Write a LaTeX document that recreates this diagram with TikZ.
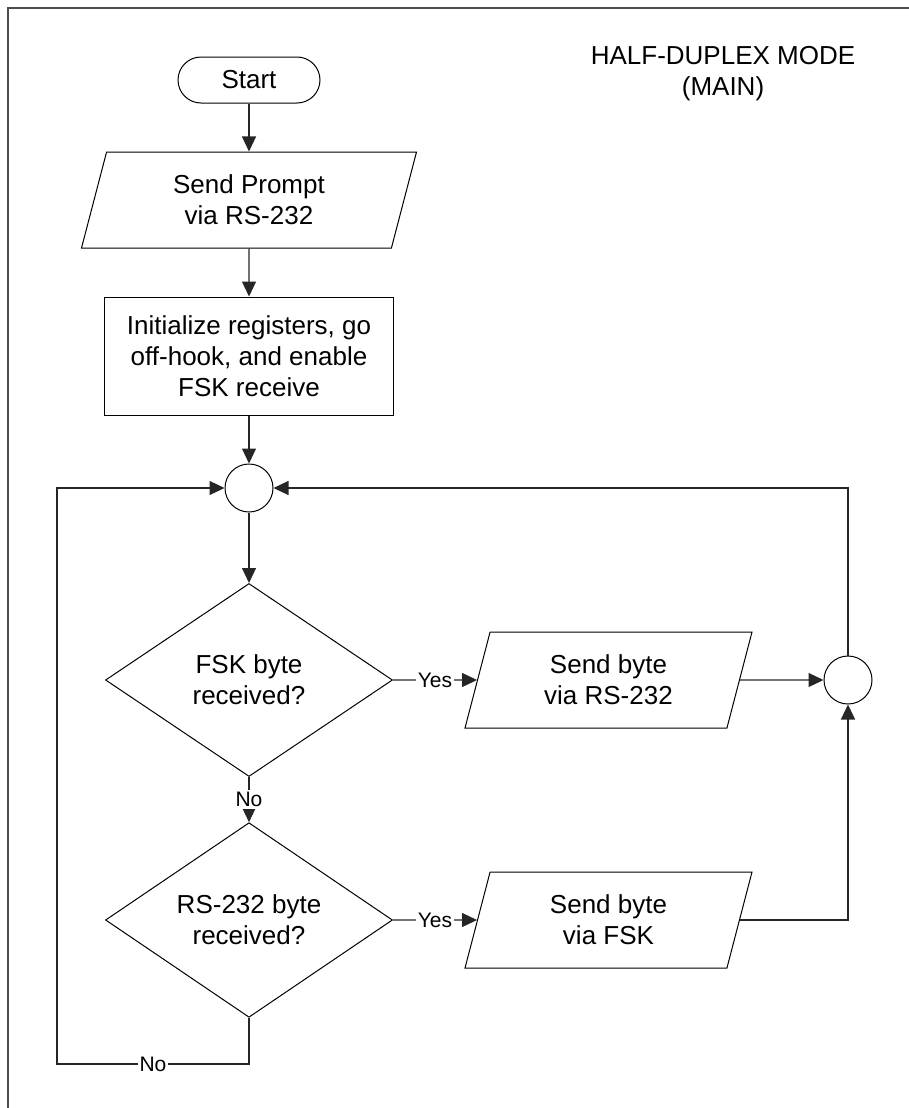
\documentclass[tikz,border=0pt]{standalone}
\usepackage{fontspec}
\setmainfont{Liberation Sans}
\usetikzlibrary{shapes.geometric,arrows.meta}
\begin{document}
\begin{tikzpicture}[x=0.5pt,y=-0.5pt,
  txt/.style={font=\fontsize{13pt}{15.5pt}\selectfont, align=center},
  shp/.style={draw=black, line width=0.5pt, inner sep=0pt, txt},
  termbox/.style={shp, rectangle, rounded corners=11.5pt, minimum width=71pt, minimum height=23pt},
  procbox/.style={shp, rectangle, minimum width=144.5pt, minimum height=59pt},
  iobox/.style={shp, trapezium, trapezium left angle=63.4, trapezium right angle=116.6,
     trapezium stretches body, minimum height=48pt},
  decbox/.style={shp, diamond, minimum width=143.5pt, minimum height=96.5pt},
  joinbox/.style={shp, circle, minimum size=24pt},
  conn/.style={draw=black!85, line width=0.6pt},
  arr/.style={conn, -{Triangle[length=7.5pt,width=7pt]}},
  lbl/.style={fill=white, inner sep=1pt, font=\fontsize{10.5pt}{12pt}\selectfont}
  ]
\useasboundingbox (0,0) rectangle (909,1108);
% frame
\draw[draw=black!70, line width=0.6pt] (8,1108) -- (8,8) -- (909,8);

\node[txt] (title) at (723,74) {HALF-DUPLEX MODE\\(MAIN)};

\node[termbox] (start) at (249,80) {Start};
\node[iobox, minimum width=167.5pt] (prompt) at (249,200) {Send Prompt\\via RS-232};
\node[procbox] (init) at (249,356) {Initialize registers, go\\off-hook, and enable\\FSK receive};
\node[joinbox] (j1) at (249,488) {};
\node[decbox] (d1) at (249,680) {FSK byte\\received?};
\node[iobox, minimum width=143.5pt] (p2) at (608.5,680) {Send byte\\via RS-232};
\node[joinbox] (j2) at (848,680) {};
\node[decbox] (d2) at (249,920) {RS-232 byte\\received?};
\node[iobox, minimum width=143.5pt] (p3) at (608.5,920) {Send byte\\via FSK};

\coordinate (c1) at (249,1064);
\coordinate (c2) at (57,1064);

\draw[arr] (start) -- (prompt);
\draw[arr] (prompt) -- (init);
\draw[arr] (init) -- (j1);
\draw[arr] (j1) -- (d1);
\draw[arr] (d1.east) -- node[lbl]{Yes} (p2);
\draw[arr] (p2) -- (j2);
\draw[arr] (d1.south) -- node[lbl]{No} (d2.north);
\draw[arr] (d2.east) -- node[lbl]{Yes} (p3);
\draw[arr] (p3.east) -| (j2.south);
\draw[arr] (j2.north) |- (j1.east);
\draw[arr] (d2.south) -- (c1) -- node[lbl]{No} (c2) |- (j1.west);
\end{tikzpicture}
\end{document}
